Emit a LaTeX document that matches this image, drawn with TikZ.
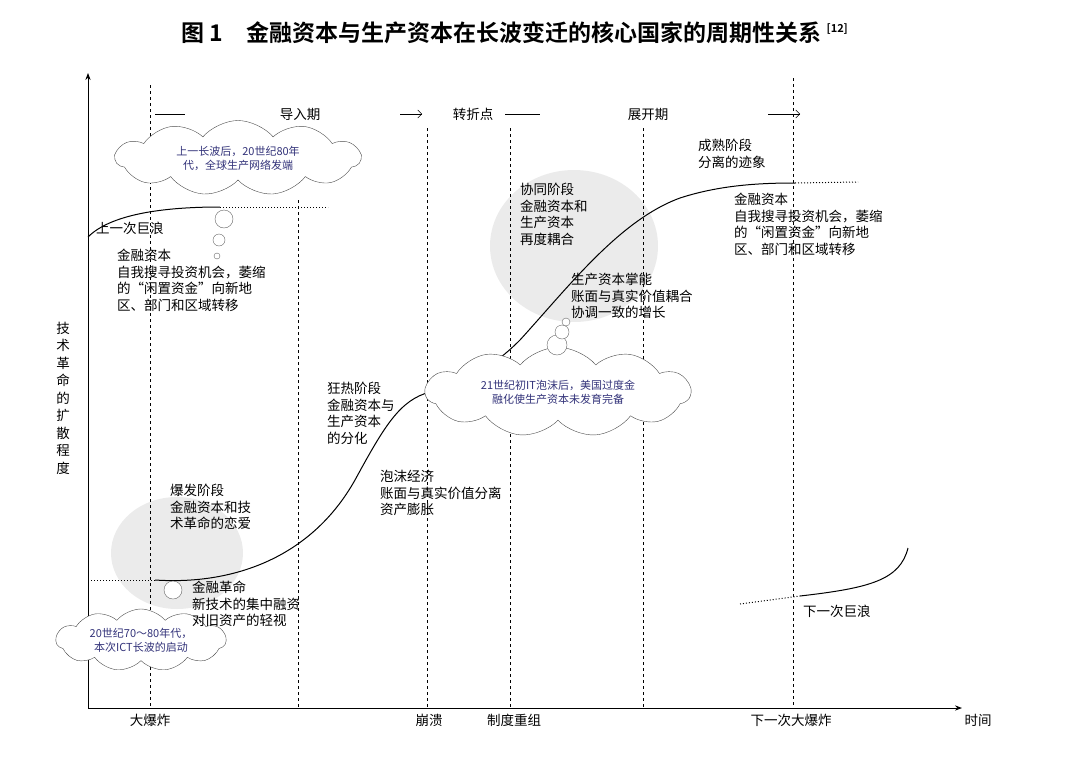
\documentclass[tikz,border=0pt]{standalone}
\usepackage{fontspec}
\setmainfont{Noto Sans CJK SC}
\newfontfamily\tfont{Noto Sans CJK SC Bold}
\usetikzlibrary{shapes.symbols,arrows.meta}
\begin{document}
\begin{tikzpicture}[x=1pt,y=-1pt,
  vline/.style={dashed,line width=0.8pt},
  txt/.style={font=\fontsize{13.5}{16.5}\selectfont,align=left,anchor=north west,inner sep=0pt},
  cloudbox/.style={cloud,cloud puffs=11,cloud puff arc=100,draw=black!70,fill=white,aspect=3.5,font=\fontsize{11}{14}\selectfont,text=blue!35!black!80,align=center,inner sep=1pt},
  bub/.style={draw=black!60,fill=white},
  curv/.style={line width=1pt}]
\useasboundingbox (0,0) rectangle (1080,766);
\node[font=\tfont\fontsize{23}{26}\selectfont] (title) at (515,33) {图 1\quad 金融资本与生产资本在长波变迁的核心国家的周期性关系 \textsuperscript{\fontsize{11}{11}\selectfont[12]}};
% axes
\coordinate (o) at (88,708);
\coordinate (ytop) at (88,73);
\coordinate (xend) at (962,708);
\draw[line width=1pt,-{Stealth[length=7pt]}] (o) -- (ytop);
\draw[line width=1pt,-{Stealth[length=7pt]}] (o) -- (xend);
\node[font=\fontsize{13.5}{17.5}\selectfont,align=center] (ylab) at (63,398) {技\\术\\革\\命\\的\\扩\\散\\程\\度};
% gray ellipses
\fill[black!8] (177,553) ellipse (66 and 56);
\fill[black!8] (574,246) ellipse (84 and 76);
% dashed verticals
\foreach \x/\t in {150/85,298/200,427/128,510/128,643/128,793/78}
  \draw[vline] (\x,\t) -- (\x,708);
% header
\node[font=\fontsize{13.5}{16}\selectfont] (h1) at (300,114) {导入期};
\node[font=\fontsize{13.5}{16}\selectfont] (h2) at (473,114) {转折点};
\node[font=\fontsize{13.5}{16}\selectfont] (h3) at (648,114) {展开期};
\coordinate (l1a) at (155,114); \coordinate (l1b) at (185,114);
\draw (l1a) -- (l1b);
\coordinate (a1a) at (400,114); \coordinate (a1b) at (422,114);
\draw[-{Straight Barb[length=4pt]}] (a1a) -- (a1b);
\coordinate (l2a) at (505,114); \coordinate (l2b) at (540,114);
\draw (l2a) -- (l2b);
\coordinate (a2a) at (768,114); \coordinate (a2b) at (800,114);
\draw[-{Straight Barb[length=4pt]}] (a2a) -- (a2b);
% curves
\draw[curv] (88,237) .. controls (110,215) and (160,207) .. (220,207);
\draw[dotted,line width=1pt] (220,207) -- (328,207);
\draw[dotted,line width=1pt] (88,580) -- (155,580);
\draw[curv] (155,580) .. controls (230,585) and (310,560) .. (355,480)
  .. controls (385,425) and (400,400) .. (430,392)
  .. controls (480,375) and (500,360) .. (520,340)
  .. controls (570,285) and (620,220) .. (680,198)
  .. controls (720,185) and (760,183) .. (795,183);
\draw[dotted,line width=1pt] (795,183) -- (858,182);
\draw[dotted,line width=1pt] (740,604) -- (800,596);
\draw[curv] (800,596) .. controls (870,588) and (900,580) .. (908,548);
% clouds
\node[cloudbox,minimum width=245pt,minimum height=75pt] (c1) at (238,158) {上一长波后，20世纪80年\\代，全球生产网络发端};
\node[cloudbox,minimum width=265pt,minimum height=72pt] (c2) at (558,392) {21世纪初IT泡沫后，美国过度金\\融化使生产资本未发育完备};
\node[cloudbox,minimum width=170pt,minimum height=62pt] (c3) at (141,640) {20世纪70～80年代，\\本次ICT长波的启动};
% bubbles
\draw[bub] (224,219) circle (9);
\draw[bub] (219,240) circle (6);
\draw[bub] (217,256) circle (3);
\draw[bub] (557,345) circle (10);
\draw[bub] (562,332) circle (7);
\draw[bub] (566,322) circle (4);
\draw[bub] (173,590) circle (9);
% texts
\node[txt] (t1) at (96,222) {上一次巨浪};
\node[txt] (t2) at (117,249) {金融资本\\自我搜寻投资机会，萎缩\\的“闲置资金”向新地\\区、部门和区域转移};
\node[txt] (t3) at (170,484) {爆发阶段\\金融资本和技\\术革命的恋爱};
\node[txt] (t4) at (192,581) {金融革命\\新技术的集中融资\\对旧资产的轻视};
\node[txt] (t5) at (327,382) {狂热阶段\\金融资本与\\生产资本\\的分化};
\node[txt] (t6) at (380,470) {泡沫经济\\账面与真实价值分离\\资产膨胀};
\node[txt] (t7) at (520,183) {协同阶段\\金融资本和\\生产资本\\再度耦合};
\node[txt] (t8) at (571,273) {生产资本掌能\\账面与真实价值耦合\\协调一致的增长};
\node[txt] (t9) at (698,139) {成熟阶段\\分离的迹象};
\node[txt] (t10) at (734,193) {金融资本\\自我搜寻投资机会，萎缩\\的“闲置资金”向新地\\区、部门和区域转移};
\node[txt] (t11) at (803,605) {下一次巨浪};
\node[font=\fontsize{13.5}{16}\selectfont] (x1) at (150,720) {大爆炸};
\node[font=\fontsize{13.5}{16}\selectfont] (x2) at (429,720) {崩溃};
\node[font=\fontsize{13.5}{16}\selectfont] (x3) at (514,720) {制度重组};
\node[font=\fontsize{13.5}{16}\selectfont] (x4) at (791,720) {下一次大爆炸};
\node[font=\fontsize{13.5}{16}\selectfont] (x5) at (978,720) {时间};
\end{tikzpicture}
\end{document}
